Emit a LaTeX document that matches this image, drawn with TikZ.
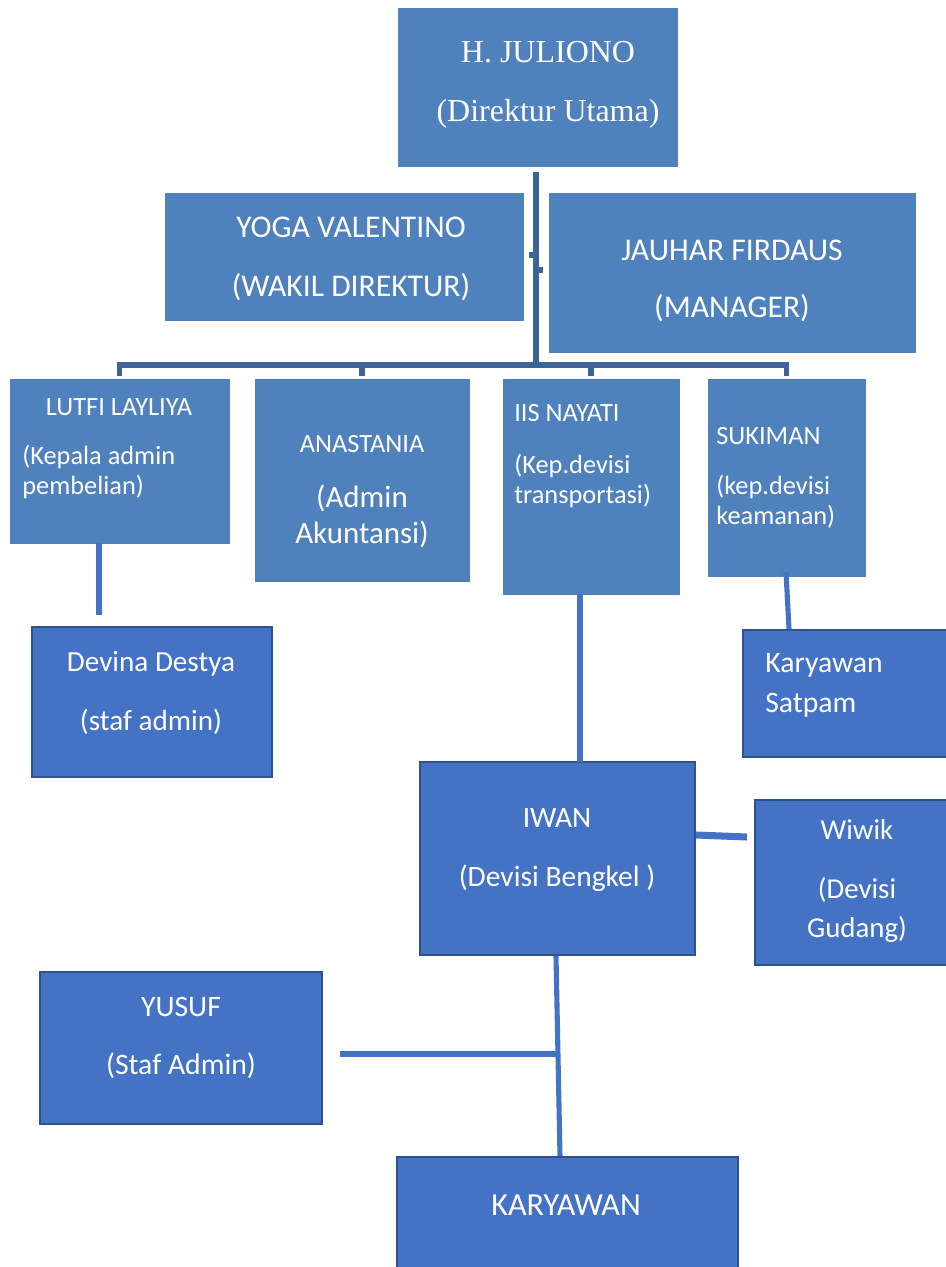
\documentclass[tikz,border=0pt]{standalone}
\usepackage{fontspec}
\setmainfont{Carlito}
\newfontfamily\timesrm{Liberation Serif}
\usetikzlibrary{fit}
\definecolor{upblue}{HTML}{4F81BD}
\definecolor{lowblue}{HTML}{4472C4}
\definecolor{lowedge}{HTML}{2F528F}
\definecolor{stemblue}{HTML}{3C6494}
\newcommand\fsz[2]{\fontsize{#1}{#2}\selectfont}
\tikzset{
  upbox/.style  = {draw=upblue, fill=upblue, inner sep=0pt},
  lowbox/.style = {draw=lowedge, fill=lowblue, line width=1.2pt, inner sep=0pt},
  txt/.style    = {text=white, inner sep=0pt, align=center},
  ltxt/.style   = {text=white, inner sep=0pt, align=left, anchor=west},
  topln/.style  = {draw=stemblue, line width=3pt},
  lowln/.style  = {draw=lowblue, line width=2.9pt},
}

\begin{document}
\begin{tikzpicture}[x=0.02cm, y=-0.02cm]
    \useasboundingbox (0,0) rectangle (946,1267);
    \clip (0,0) rectangle (946,1267);
    % boxes
    \node[upbox, fit={(398,8) (677,166)}] (julio) {};
    \node[upbox, fit={(165,193) (523,320)}] (yoga) {};
    \node[upbox, fit={(549,193) (915,352)}] (jauhar) {};
    \node[upbox, fit={(10,379) (229,543)}] (lutfi) {};
    \node[upbox, fit={(255,379) (469,581)}] (anast) {};
    \node[upbox, fit={(503,379) (679,594)}] (iis) {};
    \node[upbox, fit={(708,379) (865,576)}] (sukim) {};
    \node[lowbox, fit={(32,627) (272,777)}] (devina) {};
    \node[lowbox, fit={(743,630) (960,757)}] (satpam) {};
    \node[lowbox, fit={(420,762) (695,955)}] (iwan) {};
    \node[lowbox, fit={(755,800) (960,965)}] (wiwik) {};
    \node[lowbox, fit={(40,972) (322,1124)}] (yusuf) {};
    \node[lowbox, fit={(397,1157) (738,1290)}] (karyw) {};
    % texts
    \node[txt, font=\timesrm\fsz{18.2pt}{33.4pt}] (julioT) at (548,85) {H. JULIONO\\(Direktur Utama)};
    \node[txt, font=\fsz{18pt}{34pt}] (yogaT) at (351,259) {YOGA VALENTINO\\(WAKIL DIREKTUR)};
    \node[txt, font=\fsz{18pt}{32.9pt}] (jauharT) at (732,281) {JAUHAR FIRDAUS\\(MANAGER)};
    \node[txt, font=\fsz{15pt}{17pt}] (lutfiT) at (119,407) {LUTFI LAYLIYA};
    \node[ltxt, font=\fsz{15pt}{17.6pt}] (lutfiS) at (22,472) {(Kepala admin\\pembelian)};
    \node[txt, font=\fsz{15pt}{17pt}] (anastT) at (362,444) {ANASTANIA};
    \node[txt, font=\fsz{17.6pt}{20.4pt}] (anastS) at (362,516) {(Admin\\Akuntansi)};
    \node[ltxt, font=\fsz{15pt}{17pt}] (iisT) at (514,456) {IIS NAYATI\\[12.5pt](Kep.devisi\\transportasi)};
    \node[ltxt, font=\fsz{15pt}{17pt}] (sukimT) at (716,478) {SUKIMAN\\[11.3pt](kep.devisi\\keamanan)};
    \node[txt, font=\fsz{16.6pt}{34pt}] (devinaT) at (151,693) {Devina Destya\\(staf admin)};
    \node[ltxt, font=\fsz{16.9pt}{22.7pt}] (satpamT) at (765,685) {Karyawan\\Satpam};
    \node[txt, font=\fsz{16.8pt}{34pt}] (iwanT) at (557,850) {IWAN\\(Devisi Bengkel )};
    \node[txt, font=\fsz{16.4pt}{22.1pt}] (wiwikT) at (857,881) {Wiwik\\[11.3pt](Devisi\\Gudang)};
    \node[txt, font=\fsz{16.9pt}{33.4pt}] (yusufT) at (181,1038) {YUSUF\\(Staf Admin)};
    \node[txt, font=\fsz{18.3pt}{20pt}] (karywT) at (566,1205) {KARYAWAN};
    % top connectors
    \coordinate (hub) at (536,365);
    \coordinate (yogaStub) at (529,255);
    \coordinate (jauharStub) at (543,270);
    \draw[topln, shorten <=0.12cm] (julio.south -| hub) -- (hub);
    \draw[topln] ([yshift=0.06cm]lutfi.north) |- (hub) -| ([yshift=0.06cm]sukim.north);
    \draw[topln] ([yshift=0.06cm]anast.north) -- (anast.north |- hub);
    \draw[topln] ([yshift=0.06cm]iis.north) -- (iis.north |- hub);
    \draw[topln] (yogaStub) -- (yogaStub -| hub);
    \draw[topln] (jauharStub) -- (jauharStub -| hub);
    % lower connectors
    \coordinate (dv) at (99,615);
    \coordinate (iw) at (580,762);
    \coordinate (sk) at (786,572);
    \coordinate (wk) at (747,837);
    \coordinate (ys) at (340,1054);
    \draw[lowln] (lutfi.south -| dv) -- (dv);
    \draw[lowln] (iis.south -| iw) -- (iw);
    \draw[lowln] (sk) -- (satpam.north -| 789,0);
    \draw[lowln, line width=4pt] (iwan.east |- 0,835) -- (wk);
    \draw[lowln] (iwan.south -| 556,0) -- (karyw.north -| 560,0);
    \draw[lowln, line width=3.3pt] (ys) -- (ys -| 557,0);
\end{tikzpicture}
\end{document}
